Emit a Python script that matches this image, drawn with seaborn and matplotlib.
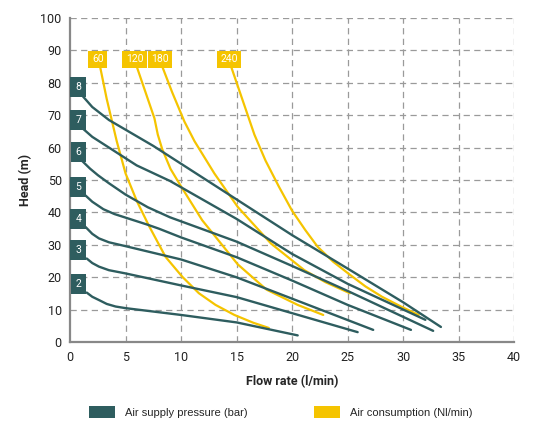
import numpy as np
import pandas as pd
import matplotlib
matplotlib.use("Agg")
import matplotlib.pyplot as plt
from matplotlib.patches import Patch
import seaborn as sns

# pump performance curves
# air supply pressure (bar) curves: flow rate (l/min) vs head (m)
pressure_names = ["2", "3", "4", "5", "6", "7", "8"]
p2_x = [1.5, 2.0, 2.6, 3.3, 4.1, 5.0, 10.0, 15.0, 20.5]
p2_y = [15.3, 14.0, 13.0, 11.8, 11.0, 10.5, 8.4, 6.1, 2.1]
p3_x = [1.5, 2.0, 2.6, 3.5, 5.0, 10.0, 15.0, 25.9]
p3_y = [25.8, 24.4, 23.3, 22.2, 21.2, 17.5, 13.9, 3.1]
p4_x = [1.4, 2.0, 2.6, 3.5, 5.0, 10.0, 15.0, 27.3]
p4_y = [35.5, 33.4, 32.0, 30.8, 29.6, 25.5, 20.0, 3.8]
p5_x = [1.4, 2.0, 3.0, 4.0, 5.0, 7.0, 8.0, 10.0, 15.0, 20.0, 25.0, 30.7]
p5_y = [45.2, 43.3, 41.0, 39.5, 38.4, 36.2, 35.0, 32.3, 26.2, 19.0, 11.5, 3.8]
p6_x = [1.05, 1.8, 2.5, 3.5, 5.0, 7.0, 9.0, 15.0, 20.0, 25.0, 32.7]
p6_y = [56.0, 53.5, 51.5, 49.0, 45.5, 41.6, 38.5, 31.0, 23.5, 15.8, 3.5]
p7_x = [1.1, 2.0, 3.5, 6.0, 9.0, 15.0, 20.0, 25.0, 32.0]
p7_y = [66.0, 63.3, 60.0, 54.5, 49.7, 38.0, 27.2, 18.0, 6.9]
p8_x = [1.1, 2.0, 3.5, 5.0, 7.5, 10.0, 15.0, 20.0, 25.0, 30.0, 33.4]
p8_y = [76.0, 72.5, 68.5, 65.5, 60.5, 55.0, 44.0, 33.0, 22.7, 12.3, 4.7]

# air consumption (Nl/min) curves
consumption_names = ["60", "120", "180", "240"]
c60_x = [2.7, 3.3, 4.2, 5.0, 6.0, 7.1, 8.6, 10.1, 11.6, 13.1, 14.8, 16.5, 17.9]
c60_y = [85.0, 75.0, 62.0, 52.0, 43.6, 35.9, 26.3, 20.2, 15.1, 11.5, 8.4, 6.0, 4.4]
c120_x = [6.0, 6.8, 7.6, 7.9, 8.3, 9.05, 10.0, 11.9, 13.1, 15.1, 17.7, 20.5, 22.8]
c120_y = [85.0, 77.0, 69.0, 64.0, 59.5, 53.4, 48.0, 37.6, 32.5, 24.0, 16.2, 11.5, 8.4]
c180_x = [8.3, 9.2, 10.3, 11.2, 13.0, 15.1, 18.1, 21.1, 23.0, 25.2]
c180_y = [85.0, 77.0, 68.0, 62.0, 52.0, 41.7, 30.4, 22.2, 18.5, 15.1]
c240_x = [14.5, 15.5, 16.6, 17.6, 18.8, 20.0, 21.2, 22.3, 23.7, 25.2, 26.6, 28.1, 29.8, 31.4]
c240_y = [85.0, 75.0, 64.0, 56.0, 48.0, 40.5, 34.5, 29.4, 24.8, 20.8, 17.2, 14.0, 11.0, 8.4]

x_ticks = [0, 5, 10, 15, 20, 25, 30, 35, 40]
y_ticks = [0, 10, 20, 30, 40, 50, 60, 70, 80, 90, 100]

TEAL = "#2e5d5f"
YELLOW = "#f5c400"

pressure = list(zip(pressure_names, [p2_x, p3_x, p4_x, p5_x, p6_x, p7_x, p8_x],
                    [p2_y, p3_y, p4_y, p5_y, p6_y, p7_y, p8_y]))
consumption = list(zip(consumption_names, [c60_x, c120_x, c180_x, c240_x],
                       [c60_y, c120_y, c180_y, c240_y]))

rows = []
for name, xs, ys in pressure:
    for x, y in zip(xs, ys):
        rows.append({"curve": "p" + name, "kind": "pressure", "flow": x, "head": y})
for name, xs, ys in consumption:
    for x, y in zip(xs, ys):
        rows.append({"curve": "c" + name, "kind": "consumption", "flow": x, "head": y})
df = pd.DataFrame(rows)

sns.set_theme(style="white")
plt.rcParams["font.family"] = ["Roboto", "DejaVu Sans"]

fig = plt.figure(figsize=(5.39, 4.45), dpi=100)
ax = fig.add_axes([0.130, 0.231, 0.824, 0.729])

# grid first so curves sit on top
for gx in x_ticks[1:]:
    ax.axvline(gx, color="#9a9a9a", lw=0.9, ls=(0, (5, 3.5)), zorder=0)
for gy in y_ticks[1:]:
    ax.axhline(gy, color="#9a9a9a", lw=0.9, ls=(0, (5, 3.5)), zorder=0)

palette = {}
for name in pressure_names:
    palette["p" + name] = TEAL
for name in consumption_names:
    palette["c" + name] = YELLOW

sns.lineplot(data=df[df["kind"] == "consumption"], x="flow", y="head", hue="curve",
             palette=palette, sort=False, estimator=None, lw=1.6, legend=False, ax=ax, zorder=2)
sns.lineplot(data=df[df["kind"] == "pressure"], x="flow", y="head", hue="curve",
             palette=palette, sort=False, estimator=None, lw=1.7, legend=False, ax=ax, zorder=3)
for line in ax.get_lines():
    line.set_solid_joinstyle("round")
    line.set_solid_capstyle("round")

# curve tags
for name, xs, ys in pressure:
    ax.text(0.75, ys[0] + 2.6, name, color="white", fontsize=7.5, ha="center", va="center",
            zorder=5, bbox=dict(boxstyle="square,pad=0.48", fc=TEAL, ec="none"))
for name, xs, ys in consumption:
    ax.text(xs[0] - 0.2, ys[0] + 2.2, name, color="white", fontsize=7.5, ha="center", va="center",
            zorder=5, bbox=dict(boxstyle="square,pad=0.34", fc=YELLOW, ec="none"))

ax.set_xlim(0, 40)
ax.set_ylim(0, 100)
ax.set_xticks(x_ticks)
ax.set_yticks(y_ticks)
ax.tick_params(axis="both", labelsize=9, length=3, color="#888888", colors="#222222", pad=3)
sns.despine(ax=ax)
for side in ["left", "bottom"]:
    ax.spines[side].set_color("#888888")
    ax.spines[side].set_linewidth(1.6)
ax.set_xlabel("Flow rate (l/min)", fontsize=9, fontweight="bold", labelpad=8)
ax.set_ylabel("Head (m)", fontsize=9, fontweight="bold", labelpad=6)

handles = [Patch(facecolor=TEAL, edgecolor="none", label="Air supply pressure (bar)"),
           Patch(facecolor=YELLOW, edgecolor="none", label="Air consumption (Nl/min)")]
fig.legend(handles=handles, loc="center", bbox_to_anchor=(0.521, 0.074), ncol=2, frameon=False,
           handlelength=2.35, handleheight=1.3, handletextpad=0.9, columnspacing=6.0,
           prop={"family": ["Liberation Sans", "DejaVu Sans"], "size": 8})

fig.savefig("out.png", dpi=100)
